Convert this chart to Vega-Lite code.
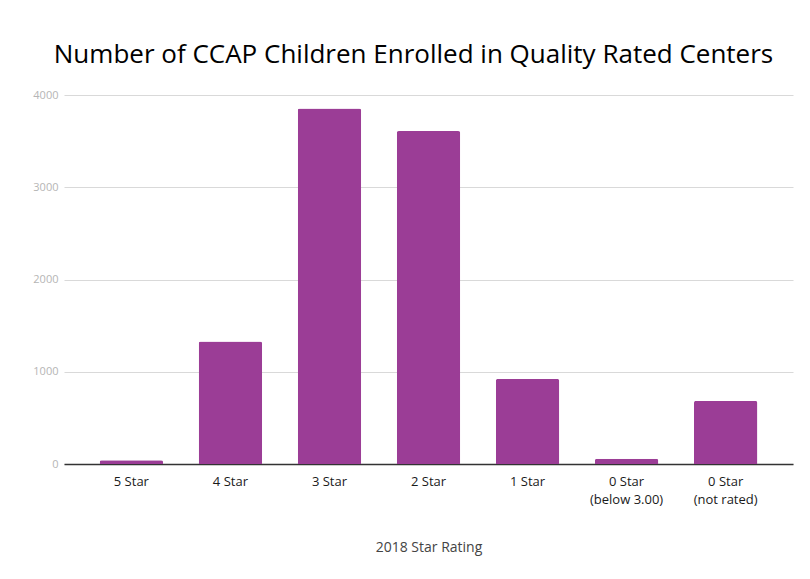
{
  "$schema": "https://vega.github.io/schema/vega-lite/v6.json",
  "width": 729,
  "height": 369,
  "autosize": {"type": "none"},
  "padding": {"left": 64, "top": 95, "right": 17, "bottom": 115},
  "background": "white",
  "title": {
    "text": "Number of CCAP Children Enrolled in Quality Rated Centers",
    "font": "Open Sans",
    "fontSize": 26,
    "fontWeight": "normal",
    "color": "#000000",
    "anchor": "middle",
    "baseline": "alphabetic",
    "offset": 0,
    "dx": -15
  },
  "data": {
    "values": [
      {"rating": "5 Star", "children": 41},
      {"rating": "4 Star", "children": 1329},
      {"rating": "3 Star", "children": 3855},
      {"rating": "2 Star", "children": 3609},
      {"rating": "1 Star", "children": 922},
      {"rating": "0 Star\n(below 3.00)", "children": 56},
      {"rating": "0 Star\n(not rated)", "children": 684}
    ]
  },
  "mark": {"type": "bar", "color": "#9b3d96", "cornerRadiusTopLeft": 2, "cornerRadiusTopRight": 2},
  "encoding": {
    "x": {
      "field": "rating",
      "type": "nominal",
      "sort": null,
      "scale": {"paddingInner": 0.36, "paddingOuter": 0.36},
      "axis": {
        "title": "2018 Star Rating",
        "titleFont": "Open Sans",
        "titleFontSize": 14,
        "titleFontWeight": "normal",
        "titleColor": "#444444",
        "titlePadding": 34,
        "labelAngle": 0,
        "labelFont": "Open Sans",
        "labelFontSize": 13,
        "labelColor": "#1a1a1a",
        "labelPadding": 11,
        "labelExpr": "split(datum.label, '\\n')",
        "labelLineHeight": 18,
        "ticks": false,
        "domainColor": "#333333",
        "domainWidth": 1.3
      }
    },
    "y": {
      "field": "children",
      "type": "quantitative",
      "scale": {"domain": [0, 4000]},
      "axis": {
        "title": null,
        "values": [0, 1000, 2000, 3000, 4000],
        "format": "d",
        "labelFont": "Open Sans",
        "labelFontSize": 11,
        "labelColor": "#b5b5b5",
        "labelPadding": 6,
        "ticks": false,
        "domain": false,
        "gridColor": "#d9d9d9",
        "gridWidth": 1
      }
    }
  },
  "config": {"view": {"stroke": null}}
}
